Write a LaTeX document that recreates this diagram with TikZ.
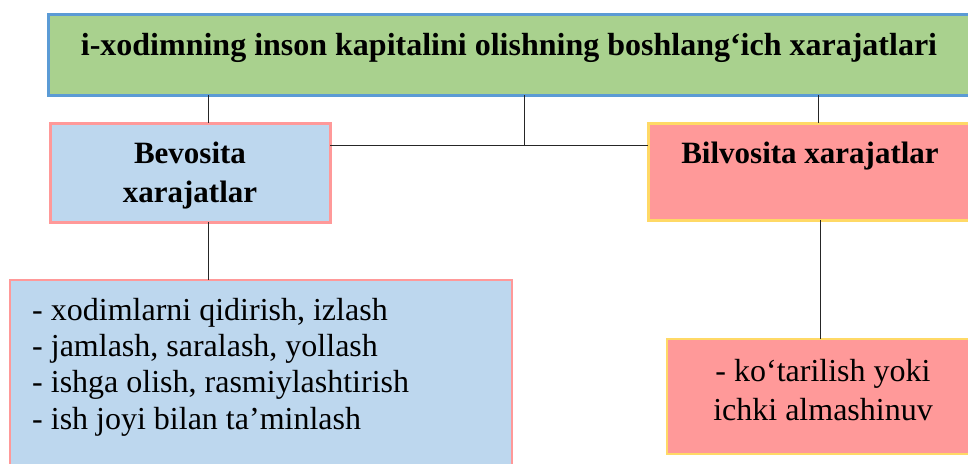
\documentclass[tikz,border=0pt]{standalone}
\usepackage{fontspec}
\setmainfont{Liberation Serif}
\definecolor{cgreen}{HTML}{A9D18E}
\definecolor{cblueb}{HTML}{5B9BD5}
\definecolor{clblue}{HTML}{BDD7EE}
\definecolor{cpink}{HTML}{FF9999}
\definecolor{cyellow}{HTML}{FFD966}
\begin{document}
\begin{tikzpicture}[x=1pt,y=-1pt,
  box/.style={rectangle,inner sep=0pt,outer sep=0pt},
  topbox/.style={box,fill=cgreen,draw=cblueb,line width=3pt},
  bluebox/.style={box,fill=clblue,draw=cpink,line width=3pt},
  redbox/.style={box,fill=cpink,draw=cyellow,line width=3pt},
  btxt/.style={inner sep=0pt,font=\fontsize{31}{39}\selectfont\bfseries,align=center},
  rtxt/.style={inner sep=0pt,font=\fontsize{32}{36.3}\selectfont},
  conn/.style={draw=black!85,line width=1pt}]
\useasboundingbox (0,0) rectangle (968,463);
\clip (0,0) rectangle (968,463);
\node[topbox,minimum width=922,minimum height=81] (top) at (509,54.5) {};
\node[bluebox,minimum width=280,minimum height=99] (lb) at (190,172.5) {};
\node[redbox,minimum width=324,minimum height=97] (rb) at (810,171.5) {};
\node[bluebox,line width=2pt,minimum width=502,minimum height=186] (bl) at (261,373) {};
\node[redbox,line width=2.5pt,minimum width=305,minimum height=115] (br) at (819.5,396.5) {};
\node[btxt,font=\fontsize{32}{38}\selectfont\bfseries,anchor=base] (ttl) at (509,55) {i-xodimning inson kapitalini olishning boshlang‘ich xarajatlari};
\node[btxt,anchor=base] (lbt) at (190,202) {Bevosita\\xarajatlar};
\node[btxt,anchor=base] (rbt) at (810,163) {Bilvosita xarajatlar};
\node[rtxt,align=left,anchor=base west] (blt) at (32,429) {- xodimlarni qidirish, izlash\\- jamlash, saralash, yollash\\- ishga olish, rasmiylashtirish\\- ish joyi bilan ta’minlash};
\node[rtxt,font=\fontsize{32}{39}\selectfont,align=center,anchor=base] (brt) at (823,420) {- ko‘tarilish yoki\\ichki almashinuv};
\coordinate (xl) at (208,0);
\coordinate (xr) at (818,0);
\coordinate (xr2) at (820,0);
\coordinate (j) at (524,145);
\draw[conn] (top.south -| xl) -- (lb.north -| xl);
\draw[conn] (top.south -| j) -- (j);
\draw[conn] (top.south -| xr) -- (rb.north -| xr);
\draw[conn] (lb.east |- j) -- (rb.west |- j);
\draw[conn] (lb.south -| xl) -- (bl.north -| xl);
\draw[conn] (rb.south -| xr2) -- (br.north -| xr2);
\end{tikzpicture}
\end{document}
